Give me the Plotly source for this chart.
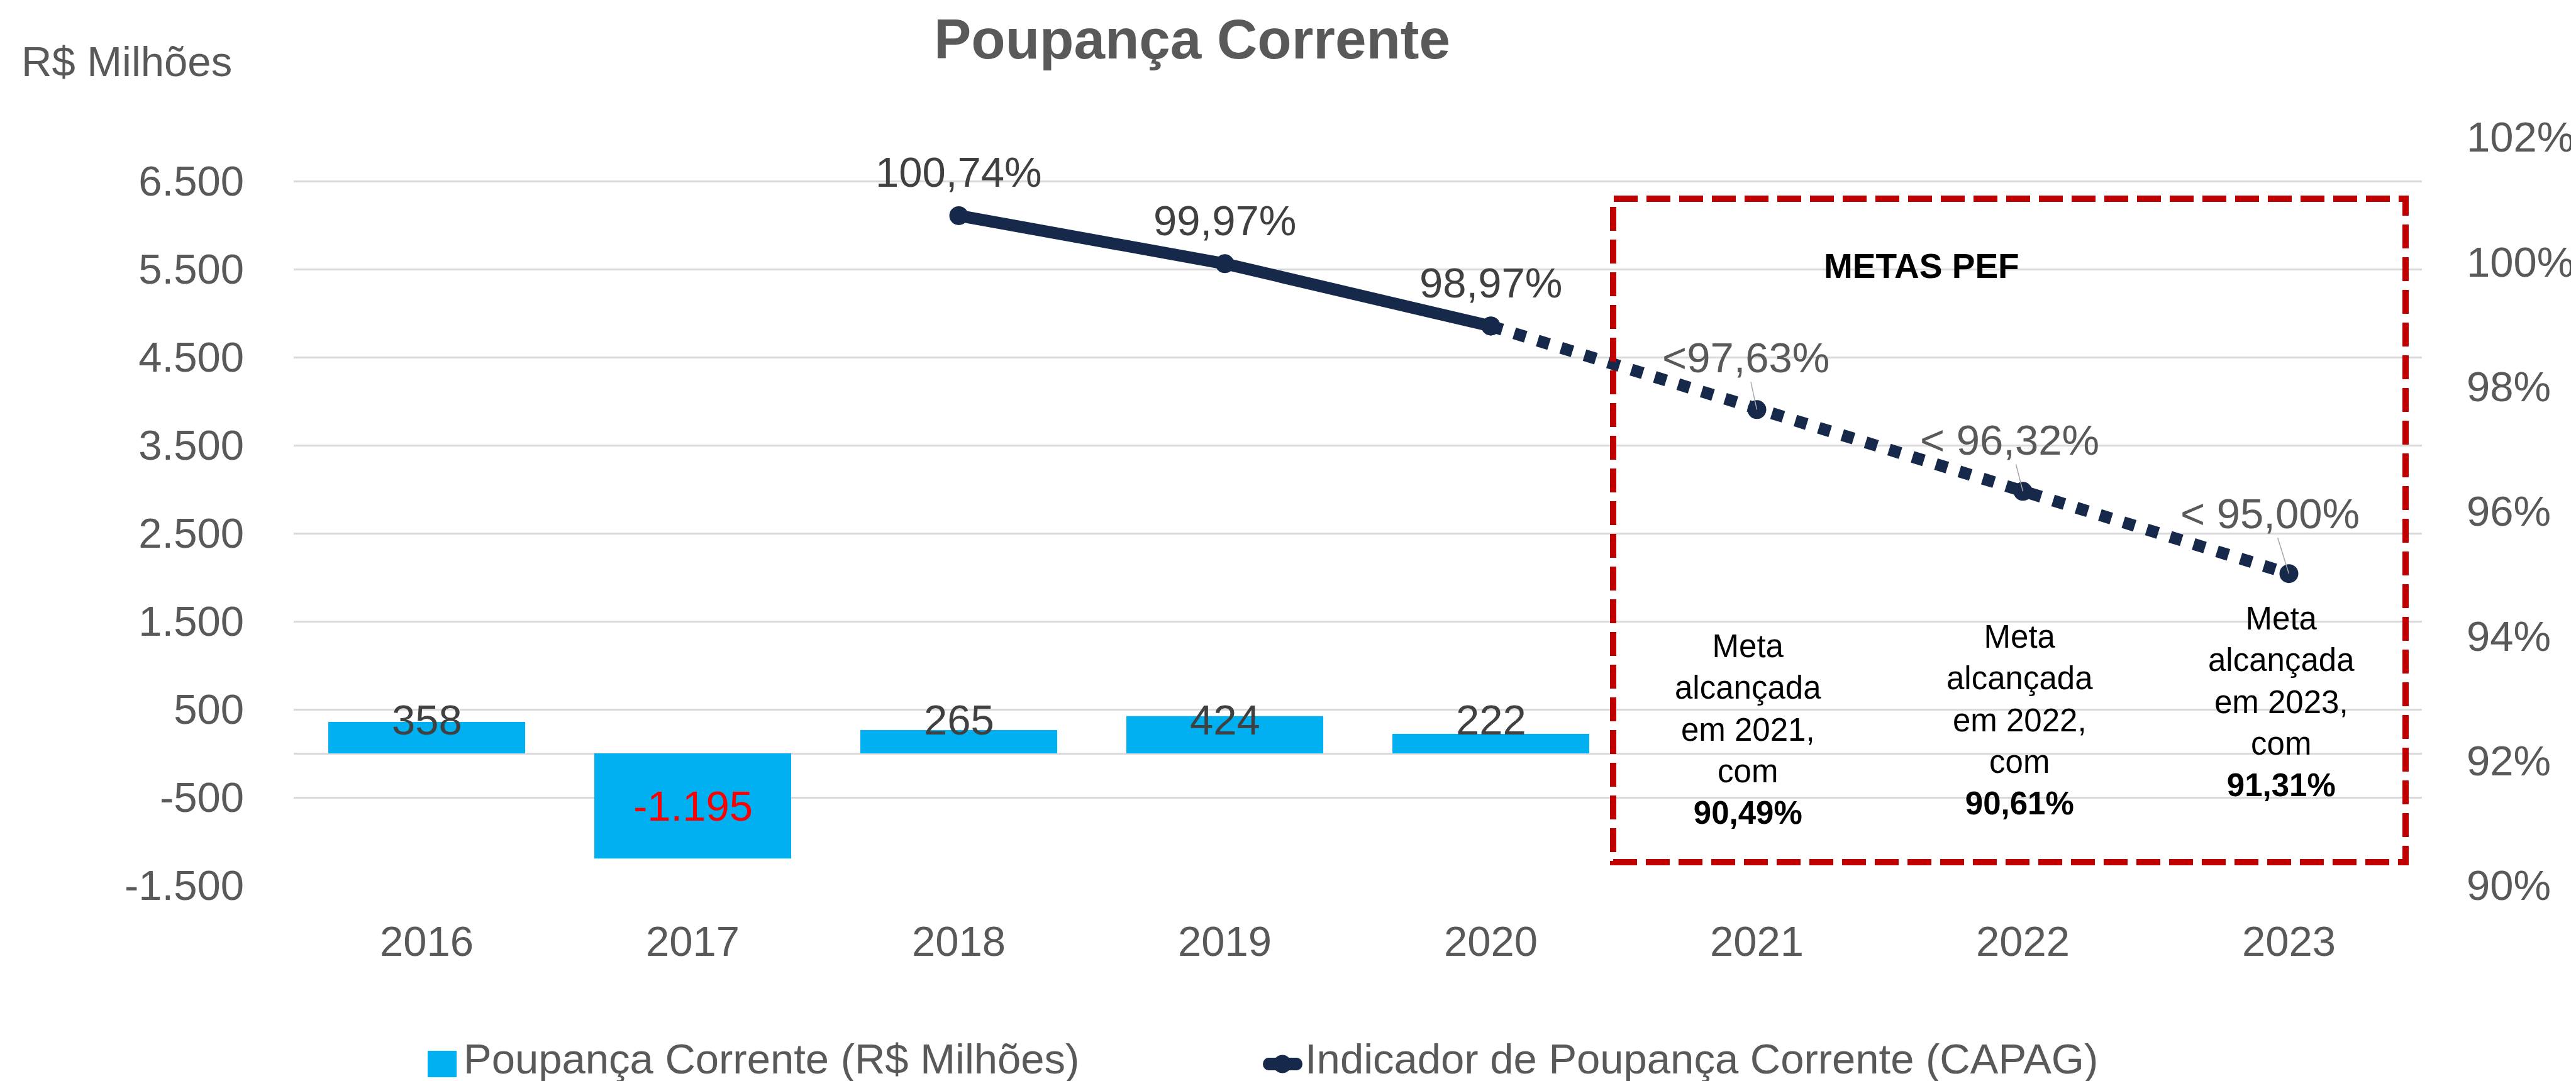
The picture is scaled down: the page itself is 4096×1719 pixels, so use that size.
import plotly.graph_objects as go

# ---------------- data ----------------
YEARS = ["2016", "2017", "2018", "2019", "2020", "2021", "2022", "2023"]
POUPANCA = [358, -1195, 265, 424, 222, None, None, None]
INDICADOR_REAL = [None, None, 1.0074, 0.9997, 0.9897, None, None, None]
INDICADOR_META = [None, None, None, None, 0.9897, 0.9763, 0.9632, 0.9500]
META_ANOS = ["2021", "2022", "2023"]
META_ALCANCADA = ["90,49%", "90,61%", "91,31%"]
Y1_TICKS = [-1500, -500, 500, 1500, 2500, 3500, 4500, 5500, 6500]
Y1_TICKTEXT = ["-1.500", "-500", "500", "1.500", "2.500", "3.500", "4.500", "5.500", "6.500"]
Y2_TICKS = [0.90, 0.92, 0.94, 0.96, 0.98, 1.00, 1.02]
Y2_TICKTEXT = ["90%", "92%", "94%", "96%", "98%", "100%", "102%"]

# ---------------- style ----------------
W, H = 4096, 1719
L, R, T, B = 459, 3843, 210, 1400
FONT = "Liberation Sans"
GREY = "#595959"
DARK = "#404040"
NAVY = "#17294A"
BLUE = "#00B0F0"
RED = "#C00000"
FS = 67


def xp(px):
    return (px - L) / (R - L)


def yp(py):
    return (B - py) / (B - T)


fig = go.Figure()

fig.add_trace(go.Bar(x=YEARS, y=POUPANCA, marker=dict(color=BLUE, line=dict(width=0)),
                     yaxis="y", name="Poupança Corrente (R$ Milhões)"))
fig.add_trace(go.Scatter(x=YEARS, y=INDICADOR_REAL, mode="lines+markers", yaxis="y2",
                         line=dict(color=NAVY, width=19),
                         marker=dict(size=30, color=NAVY),
                         name="Indicador de Poupança Corrente (CAPAG)"))
fig.add_trace(go.Scatter(x=YEARS, y=INDICADOR_META, mode="lines+markers", yaxis="y2",
                         line=dict(color=NAVY, width=19, dash="19px,20px"),
                         marker=dict(size=30, color=NAVY), showlegend=False))

ann = []


def fmt_int(v):
    return f"{v:,}".replace(",", ".")


def fmt_pct(v):
    return f"{v * 100:.2f}".replace(".", ",") + "%"


# bar data labels (category axes take the category index in annotations)
LABEL_Y = 382
for i, v in enumerate(POUPANCA):
    if v is None:
        continue
    if v >= 0:
        ann.append(dict(x=i, y=LABEL_Y, xref="x", yref="y", text=fmt_int(v), showarrow=False,
                        font=dict(family=FONT, size=FS, color=DARK), yanchor="middle"))
    else:
        ann.append(dict(x=i, y=v / 2, xref="x", yref="y", text=fmt_int(v), showarrow=False,
                        font=dict(family=FONT, size=FS, color="#FF0000"), yanchor="middle"))

# line data labels (realised)
for i, v in enumerate(INDICADOR_REAL):
    if v is None:
        continue
    ann.append(dict(x=i, y=v, xref="x", yref="y2", text=fmt_pct(v), showarrow=False,
                    yshift=69, font=dict(family=FONT, size=FS, color=DARK), yanchor="middle"))

# line data labels (targets) with leader lines
target_offsets = [(-18, -83), (-21, -82), (-30, -96)]
prefixes = ["<", "< ", "< "]
k = 0
for i, v in enumerate(INDICADOR_META):
    if v is None or YEARS[i] not in META_ANOS:
        continue
    dx, dy = target_offsets[k]
    ann.append(dict(x=i, y=v, xref="x", yref="y2", text=prefixes[k] + fmt_pct(v),
                    showarrow=True, arrowhead=0, arrowwidth=1.5, arrowcolor="#A6A6A6",
                    ax=dx, ay=dy, standoff=0,
                    font=dict(family=FONT, size=FS, color=GREY)))
    k += 1

# META blocks
meta_xshift = [-14, -5, -12]
meta_ypix = [1152, 1137, 1108]
for k, (ano, val) in enumerate(zip(META_ANOS, META_ALCANCADA)):
    ann.append(dict(x=YEARS.index(ano), xref="x", y=yp(meta_ypix[k]), yref="paper",
                    xshift=meta_xshift[k],
                    text=f"Meta<br>alcançada<br>em {ano},<br>com<br><b>{val}</b>",
                    showarrow=False, align="center", yanchor="middle",
                    font=dict(family=FONT, size=51, color="#000000")))

ann.append(dict(x=xp(3205), y=yp(415), xref="paper", yref="paper", text="<b>METAS PEF</b>",
                showarrow=False, font=dict(family=FONT, size=55, color="#000000"), yanchor="middle"))

# title & unit label
ann.append(dict(x=xp(1887), y=yp(54), xref="paper", yref="paper", text="<b>Poupança Corrente</b>",
                showarrow=False, font=dict(family=FONT, size=89, color=GREY), yanchor="middle"))
ann.append(dict(x=xp(24), y=yp(90), xref="paper", yref="paper", text="R$ Milhões",
                showarrow=False, xanchor="left", font=dict(family=FONT, size=FS, color=GREY),
                yanchor="middle"))

# legend (manual)
ann.append(dict(x=xp(728), y=yp(1675), xref="paper", yref="paper",
                text="Poupança Corrente (R$ Milhões)", showarrow=False, xanchor="left",
                yanchor="middle", borderpad=0, font=dict(family=FONT, size=FS, color=GREY)))
ann.append(dict(x=xp(2066), y=yp(1675), xref="paper", yref="paper",
                text="Indicador de Poupança Corrente (CAPAG)", showarrow=False, xanchor="left",
                yanchor="middle", borderpad=0, font=dict(family=FONT, size=FS, color=GREY)))

shapes = [
    dict(type="rect", xref="paper", yref="paper", x0=xp(2557), x1=xp(3817), y0=yp(1363), y1=yp(308),
         line=dict(color=RED, width=10, dash="38px,14px"), fillcolor="rgba(0,0,0,0)", layer="above"),
    dict(type="rect", xref="paper", yref="paper", x0=xp(672), x1=xp(718), y0=yp(1705), y1=yp(1663),
         line=dict(width=0), fillcolor=BLUE),
    dict(type="line", xref="paper", yref="paper", x0=xp(2008), x1=xp(2055), y0=yp(1684), y1=yp(1684),
         line=dict(color=NAVY, width=20)),
    dict(type="circle", xref="paper", yref="paper", x0=xp(2000), x1=xp(2018), y0=yp(1694), y1=yp(1674),
         line=dict(width=0), fillcolor=NAVY),
    dict(type="circle", xref="paper", yref="paper", x0=xp(2045), x1=xp(2063), y0=yp(1694), y1=yp(1674),
         line=dict(width=0), fillcolor=NAVY),
    dict(type="circle", xref="paper", yref="paper", x0=xp(2016.5), x1=xp(2045.5), y0=yp(1698.5), y1=yp(1669.5),
         line=dict(width=0), fillcolor=NAVY),
]

fig.update_layout(
    width=W, height=H,
    margin=dict(l=L, r=W - R, t=T, b=H - B, pad=0),
    paper_bgcolor="white", plot_bgcolor="white",
    showlegend=False,
    bargap=0.26,
    font=dict(family=FONT, size=FS, color=GREY),
    xaxis=dict(type="category", range=[-0.5, 7.5], showgrid=False, showline=False, ticks="",
               tickfont=dict(family=FONT, size=FS, color=GREY), ticklabelstandoff=44),
    yaxis=dict(range=[-1500, 7000], tickvals=Y1_TICKS, ticktext=Y1_TICKTEXT, showgrid=True,
               gridcolor="#D9D9D9", gridwidth=2.5, zeroline=True, zerolinecolor="#D9D9D9",
               zerolinewidth=2.5, showline=False, ticks="",
               tickfont=dict(family=FONT, size=FS, color=GREY), ticklabelstandoff=78),
    yaxis2=dict(range=[0.90, 1.02], tickvals=Y2_TICKS, ticktext=Y2_TICKTEXT, overlaying="y",
                side="right", showgrid=False, zeroline=False, showline=False, ticks="",
                tickfont=dict(family=FONT, size=FS, color=GREY), ticklabelstandoff=70),
    annotations=ann,
    shapes=shapes,
)

fig.write_html("out.html")
